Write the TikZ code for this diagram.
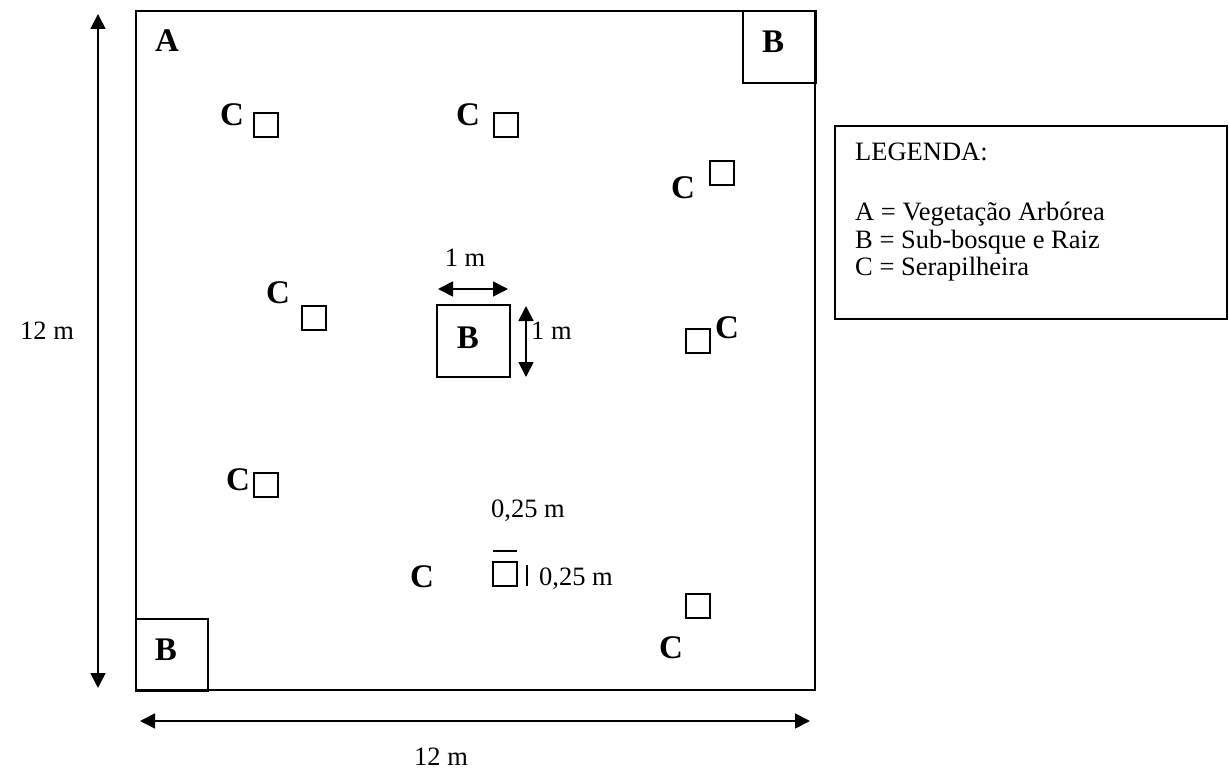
\documentclass[tikz,border=0pt]{standalone}
\usepackage{fontspec}
\setmainfont{Liberation Serif}
\usetikzlibrary{arrows.meta}
\begin{document}
\begin{tikzpicture}[x=1pt,y=-1pt,
  sq/.style={draw,line width=2pt,minimum size=24pt,inner sep=0pt,outer sep=0pt},
  bsq/.style={draw,line width=2pt,minimum width=72pt,minimum height=72pt,inner sep=0pt,outer sep=0pt},
  bl/.style={inner sep=0pt,font=\fontsize{33}{36}\selectfont\bfseries},
  rt/.style={inner sep=0pt,font=\fontsize{26.5}{30}\selectfont},
  dim/.style={line width=1.8pt,{Triangle[length=15pt,width=15pt]}-{Triangle[length=15pt,width=15pt]}}]
\useasboundingbox (0,0) rectangle (1229,770);
% main plot
\draw[line width=2.2pt] (136,11) rectangle (815,690);
\node[bsq,minimum width=73pt,minimum height=72pt] (btr) at (779,47) {};
\node[bl] (btrl) at (773,42) {B};
\node[bsq] (bbl) at (172,654.5) {};
\node[bl] (bbll) at (166,650) {B};
\node[bl] (al) at (167,41) {A};
% centre B
\node[bsq,minimum width=73pt,minimum height=72pt] (bc) at (473.5,341) {};
\node[bl] (bcl) at (468,338) {B};
\coordinate (h1) at (438,289); \coordinate (h2) at (508,289);
\draw[dim] (h1) -- (h2);
\node[rt,anchor=base] (h1m) at (465,266) {1 m};
\coordinate (v1) at (526,306); \coordinate (v2) at (526,377);
\draw[dim] (v1) -- (v2);
\node[rt,anchor=base west] (v1m) at (531,339) {1 m};
% C squares
\node[sq] (c1) at (265.5,125) {}; \node[bl] (c1l) at (232,115) {C};
\node[sq] (c2) at (505.5,125) {}; \node[bl] (c2l) at (468,115) {C};
\node[sq] (c3) at (721.5,173) {}; \node[bl] (c3l) at (683,188) {C};
\node[sq] (c4) at (313.5,317.5) {}; \node[bl] (c4l) at (278,293) {C};
\node[sq] (c5) at (697.5,341) {}; \node[bl] (c5l) at (727,328) {C};
\node[sq] (c6) at (265.5,485) {}; \node[bl] (c6l) at (238,480) {C};
\node[sq] (c7) at (505,574) {}; \node[bl] (c7l) at (422,577) {C};
\node[sq] (c8) at (697.5,605.5) {}; \node[bl] (c8l) at (671,648) {C};
% quarter-metre dimensions
\coordinate (o1) at (493,551); \coordinate (o2) at (517,551);
\draw[line width=2pt] (o1) -- (o2);
\coordinate (b1) at (526.5,565); \coordinate (b2) at (526.5,586);
\draw[line width=2pt] (b1) -- (b2);
\node[rt,anchor=base] (q1) at (528,517) {0,25 m};
\node[rt,anchor=base west] (q2) at (539,585) {0,25 m};
% overall dimensions
\coordinate (l1) at (98,14); \coordinate (l2) at (98,688);
\draw[dim] (l1) -- (l2);
\node[rt,anchor=base] (lm) at (47,339) {12 m};
\coordinate (d1) at (140,721); \coordinate (d2) at (810,721);
\draw[dim] (d1) -- (d2);
\node[rt,anchor=base] (dm) at (441,765) {12 m};
% legend
\node[draw,line width=1.8pt,minimum width=392pt,minimum height=193pt,inner sep=0pt] (leg) at (1031,222.5) {};
\node[rt,anchor=base west] (lg0) at (855,161) {LEGENDA:};
\node[rt,anchor=base west] (lg1) at (855,221) {A = Vegetação Arbórea};
\node[rt,anchor=base west] (lg2) at (855,248) {B = Sub-bosque e Raiz};
\node[rt,anchor=base west] (lg3) at (855,275) {C = Serapilheira};
\end{tikzpicture}
\end{document}
